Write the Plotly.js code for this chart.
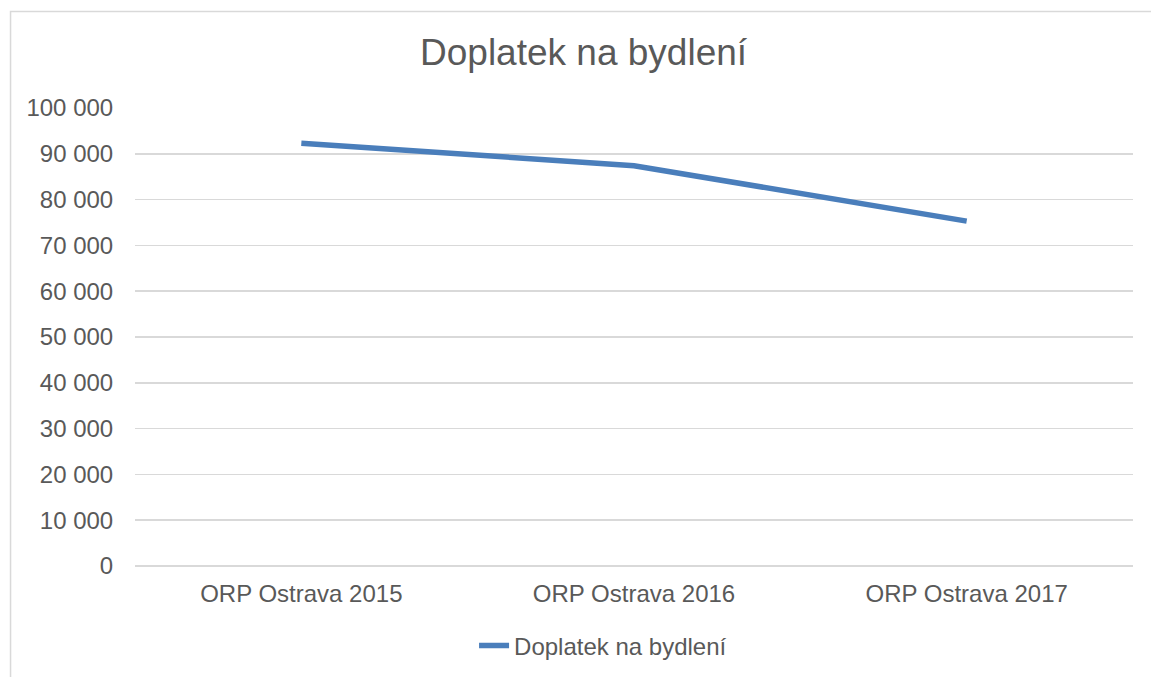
<!DOCTYPE html>
<html>
<head>
<meta charset="utf-8">
<script src="https://cdn.plot.ly/plotly-3.0.1.min.js"></script>
<style>
  body { margin: 0; padding: 0; background: #fff; }
  #chart { width: 1151px; height: 677px; }
</style>
</head>
<body>
<div id="chart"></div>
<script>
var categories = ["ORP Ostrava 2015", "ORP Ostrava 2016", "ORP Ostrava 2017"];
var doplatek = [92300, 87400, 75300];
var seriesName = "Doplatek na bydlení";

var textColor = "#595959";
var gridColor = "#d9d9d9";

var trace = {
  x: categories,
  y: doplatek,
  name: seriesName,
  type: "scatter",
  mode: "lines",
  line: { color: "#4a7ebb", width: 5.5 },
  hoverinfo: "x+y",
};

var layout = {
  width: 1151,
  height: 677,
  font: { family: "Liberation Sans, Arial, sans-serif", color: textColor, size: 24 },
  separators: ", ",
  paper_bgcolor: "#ffffff",
  plot_bgcolor: "#ffffff",
  margin: { l: 135, r: 18, t: 107.5, b: 111, pad: 0, autoexpand: false },
  title: {
    text: "Doplatek na bydlení",
    font: { size: 37, color: textColor },
    x: 0.507,
    xref: "container",
    xanchor: "center",
    y: 0.923,
    yref: "container",
    yanchor: "middle",
  },
  xaxis: {
    type: "category",
    range: [-0.5, 2.5],
    showgrid: false,
    zeroline: false,
    showline: false,
    ticks: "outside",
    ticklen: 6,
    tickcolor: "rgba(0,0,0,0)",
    tickfont: { size: 24, color: textColor },
  },
  yaxis: {
    range: [0, 100000],
    dtick: 10000,
    tickformat: ",.0f",
    showgrid: true,
    gridcolor: gridColor,
    gridwidth: 1.5,
    zeroline: true,
    zerolinecolor: gridColor,
    zerolinewidth: 1.5,
    showline: false,
    ticks: "outside",
    ticklen: 16,
    tickcolor: "rgba(0,0,0,0)",
    tickfont: { size: 24, color: textColor },
  },
  showlegend: true,
  legend: {
    orientation: "h",
    x: 0.469,
    xanchor: "center",
    yref: "container",
    y: 0.0458,
    yanchor: "middle",
    font: { size: 24, color: textColor },
  },
  shapes: [
    {
      type: "rect",
      xref: "paper",
      yref: "paper",
      x0: -0.1247,
      x1: 1.05,
      y0: -0.3,
      y1: 1.2105,
      line: { color: gridColor, width: 1.5 },
      fillcolor: "rgba(0,0,0,0)",
      layer: "below",
    },
  ],
};

var config = { staticPlot: true, displayModeBar: false };
Plotly.newPlot("chart", [trace], layout, config);
</script>
</body>
</html>
